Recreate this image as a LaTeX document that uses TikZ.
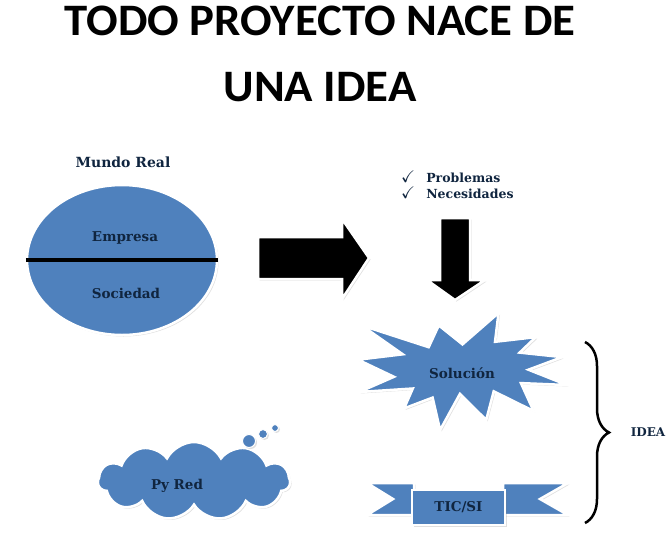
\documentclass[tikz,border=0pt]{standalone}
\usepackage{amssymb}
\usepackage{fontspec}
\setmainfont{DejaVu Serif}
\newfontfamily\titlefont{Carlito}
\usetikzlibrary{shapes,shapes.symbols,shadows,decorations.pathreplacing}
\definecolor{ofblue}{HTML}{4F81BD}
\definecolor{tinta}{HTML}{10253F}
\newcommand{\chk}{\scalebox{1.35}{$\checkmark$}}

\begin{document}
\begin{tikzpicture}[x=1pt,y=-1pt,
		titulo/.style={font=\titlefont\bfseries\fontsize{45}{50}\selectfont,anchor=base,inner sep=0pt,xscale=1.04},
		lbl/.style={font=\bfseries\fontsize{13.5}{16}\selectfont,text=tinta,inner sep=1pt},
		sombra/.style={drop shadow={shadow xshift=1.5pt,shadow yshift=-1.5pt,opacity=0.25}},
		forma/.style={fill=ofblue,draw=white,line width=2.5pt,sombra},
		flecha/.style={fill=black,draw=white,line width=2.5pt,sombra},
		burbuja/.style={forma,circle,line width=1pt,inner sep=0pt}]
		\useasboundingbox (0,0) rectangle (671,533);
		
		% titulo
		\node[titulo] (t1) at (320,35)  {TODO PROYECTO NACE DE};
		\node[titulo] (t2) at (320,101) {UNA IDEA};
		
		% mundo real
		\node[lbl,font=\bfseries\fontsize{14}{16}\selectfont] (mr) at (123,162) {Mundo Real};
		\node[forma,ellipse,minimum width=190pt,minimum height=150pt,inner sep=0pt] (mundo) at (122,260) {};
		\draw[line width=3.5pt] (mundo.west) -- (mundo.east);
		\node[lbl] (emp) at (125,238) {Empresa};
		\node[lbl] (soc) at (126,293) {Sociedad};
		
		% flechas
		\draw[flecha] (258,237) -- (342,237) -- (342,219) -- (369,258) -- (342,299) -- (342,279) -- (258,279) -- cycle;
		\draw[flecha] (440,218) -- (470,218) -- (470,280) -- (485,280) -- (455,300) -- (427,280) -- (440,280) -- cycle;
		
		\node[lbl,font=\bfseries\fontsize{12.5}{16}\selectfont,align=left,anchor=west] (lista) at (400,185)
			{\chk\hspace{11pt}Problemas\\\chk\hspace{11pt}Necesidades};
		
		% solucion
		\draw[forma] (462.5,344.4) -- (498.5,313) -- (495.0,341.8) -- (535.8,337.1) -- (519.6,352.6)
			-- (562.1,357.1) -- (528.4,369.7) -- (567,385) -- (520.9,383.1) -- (533.6,411)
			-- (493.7,391.3) -- (486.2,419.9) -- (459.9,393.9) -- (440.1,430) -- (432.6,397.6)
			-- (404.1,408.4) -- (412.8,388.5) -- (359.3,392) -- (394,376.8) -- (358,359.7)
			-- (402.8,354.3) -- (361.6,325.4) -- (428.7,347.2) -- (438.8,325.4) -- cycle;
		\node[lbl] (sol) at (462,373) {Solución};
		
		% nube
		\node[forma,cloud,cloud puffs=11,cloud puff arc=125,minimum width=192pt,minimum height=78pt,inner sep=0pt] (nube) at (194,481) {};
		\node[burbuja,minimum size=13pt] (b1) at (249,441) {};
		\node[burbuja,minimum size=9pt]  (b2) at (263,434) {};
		\node[burbuja,minimum size=7pt]  (b3) at (275,428) {};
		\node[lbl] (pyred) at (177,486) {Py Red};
		
		% cinta
		\draw[forma] (367,483) -- (414,483) -- (414,515) -- (367,515) -- (393,499) -- cycle;
		\draw[forma] (503,483) -- (568,483) -- (540,499) -- (568,515) -- (503,515) -- cycle;
		\node[forma,lbl,minimum width=93pt,minimum height=35pt] (tic) at (458.5,507.5) {TIC/SI};
		
		% llave
		\coordinate (llave1) at (585,342);
		\coordinate (llave2) at (585,523);
		\draw[decorate,decoration={brace,amplitude=24pt},line width=2.5pt] (llave1) -- (llave2);
		\node[lbl,font=\bfseries\fontsize{12}{14}\selectfont] (idea) at (648,432) {IDEA};
\end{tikzpicture}
\end{document}
